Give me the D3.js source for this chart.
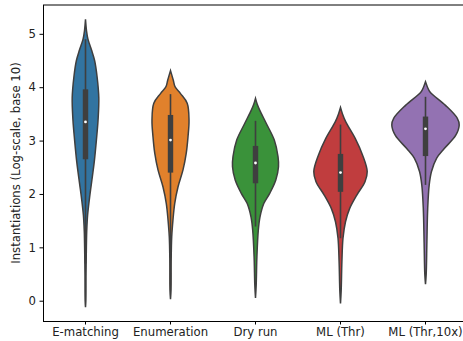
<!DOCTYPE html>
<html>
<head>
<meta charset="utf-8">
<script src="https://cdn.jsdelivr.net/npm/d3@7"></script>
<style>
  body { margin: 0; background: #fff; }
  text { font-family: "DejaVu Sans", sans-serif; fill: #222; }
</style>
</head>
<body>
<div id="chart"></div>
<script>
// DATA
var categories = ["E-matching", "Enumeration", "Dry run", "ML (Thr)", "ML (Thr,10x)"];
var colors = ["#3274a1", "#e1812c", "#3a923a", "#c03d3e", "#9372b2"];

var medians = [3.35, 3.01, 2.58, 2.40, 3.22];
var q1 = [2.65, 2.40, 2.20, 2.04, 2.71];
var q3 = [3.96, 3.48, 2.90, 2.75, 3.45];
var whiskLo = [0.70, 0.80, 1.39, 1.17, 2.17];
var whiskHi = [4.90, 3.87, 3.37, 3.30, 3.82];

// density profiles: [log value, relative density]
var densEmatching = [[-0.12, 0], [0, 0.01], [0.5, 0.015], [1.0, 0.025], [1.3, 0.035], [1.6, 0.06],
    [1.9, 0.11], [2.2, 0.17], [2.6, 0.25], [3.0, 0.31], [3.4, 0.36], [3.8, 0.38], [4.2, 0.33],
    [4.5, 0.26], [4.7, 0.17], [4.9, 0.07], [5.05, 0.03], [5.27, 0]];
var densEnumeration = [[0.03, 0], [0.2, 0.015], [0.8, 0.02], [1.2, 0.035], [1.51, 0.07],
    [1.82, 0.12], [2.13, 0.214], [2.45, 0.357], [2.76, 0.449], [3.07, 0.5], [3.38, 0.529],
    [3.70, 0.477], [3.88, 0.286], [4.01, 0.129], [4.13, 0.08], [4.31, 0]];
var densDryRun = [[0.05, 0], [0.3, 0.02], [0.82, 0.04], [1.32, 0.08], [1.57, 0.129],
    [1.82, 0.237], [2.01, 0.406], [2.26, 0.58], [2.51, 0.657], [2.70, 0.643], [3.01, 0.537],
    [3.32, 0.309], [3.57, 0.12], [3.68, 0.05], [3.79, 0]];
var densMLThr = [[-0.05, 0], [0.2, 0.02], [0.73, 0.04], [1.17, 0.071], [1.48, 0.143],
    [1.73, 0.263], [1.98, 0.466], [2.23, 0.7], [2.42, 0.763], [2.73, 0.629], [3.04, 0.42],
    [3.35, 0.151], [3.5, 0.057], [3.62, 0]];
var densMLThr10x = [[0.31, 0], [0.5, 0.02], [1.1, 0.04], [1.73, 0.063], [2.17, 0.106],
    [2.42, 0.171], [2.67, 0.32], [2.85, 0.537], [3.10, 0.866], [3.29, 0.963], [3.42, 0.906],
    [3.66, 0.571], [3.91, 0.129], [4.0, 0.057], [4.10, 0]];
var densities = [densEmatching, densEnumeration, densDryRun, densMLThr, densMLThr10x];

var yTicks = [0, 1, 2, 3, 4, 5];

// CHART
var svgWidth = 463, svgHeight = 341;
var margin = { left: 43, right: 468, top: 5, bottom: 321 };

var svg = d3.select("#chart")
    .append("svg")
    .attr("width", svgWidth)
    .attr("height", svgHeight);

var x = d3.scaleBand()
    .domain(categories)
    .range([margin.left, margin.right]);

var y = d3.scaleLinear()
    .domain([-0.38, 5.54])
    .range([margin.bottom, margin.top]);

var w = d3.scaleLinear()
    .domain([0, 1])
    .range([0, 35]);

// Violins
categories.forEach(function(c, i) {
    var cx = x(c) + x.bandwidth() / 2;
    var area = d3.area()
        .curve(d3.curveCatmullRom)
        .y(d => y(d[0]))
        .x0(d => cx - w(d[1]))
        .x1(d => cx + w(d[1]));

    svg.append("path")
        .datum(densities[i])
        .attr("d", area)
        .attr("fill", colors[i])
        .attr("stroke", "#3f3f3f")
        .attr("stroke-width", 1.5);

    // whisker
    svg.append("line")
        .attr("x1", cx).attr("x2", cx)
        .attr("y1", y(whiskLo[i])).attr("y2", y(whiskHi[i]))
        .attr("stroke", "#3f3f3f")
        .attr("stroke-width", 1.6);

    // box
    svg.append("rect")
        .attr("x", cx - 2.7)
        .attr("width", 5.4)
        .attr("y", y(q3[i]))
        .attr("height", y(q1[i]) - y(q3[i]))
        .attr("fill", "#3f3f3f");

    // median
    svg.append("circle")
        .attr("cx", cx)
        .attr("cy", y(medians[i]))
        .attr("r", 1.4)
        .attr("fill", "#fff");
});

// Axes
var yAxis = svg.append("g")
    .attr("transform", "translate(" + margin.left + ",0)")
    .call(d3.axisLeft(y).tickValues(yTicks).tickFormat(d3.format("d")).tickSize(3.5).tickPadding(3.5));
yAxis.select(".domain").remove();
yAxis.selectAll("text").style("font-size", "11.7px").attr("fill", "#222");

var xAxis = svg.append("g")
    .attr("transform", "translate(0," + margin.bottom + ")")
    .call(d3.axisBottom(x).tickSize(3.5).tickPadding(3.5));
xAxis.select(".domain").remove();
xAxis.selectAll("text").style("font-size", "11.7px").attr("fill", "#222");

// Spines
svg.append("line")
    .attr("x1", margin.left + 0.5).attr("x2", margin.left + 0.5)
    .attr("y1", margin.top).attr("y2", margin.bottom + 0.5)
    .attr("stroke", "#000").attr("stroke-width", 1);
svg.append("line")
    .attr("x1", margin.left).attr("x2", svgWidth)
    .attr("y1", margin.bottom + 0.5).attr("y2", margin.bottom + 0.5)
    .attr("stroke", "#000").attr("stroke-width", 1);
svg.append("line")
    .attr("x1", margin.left).attr("x2", svgWidth)
    .attr("y1", margin.top).attr("y2", margin.top)
    .attr("stroke", "#000").attr("stroke-width", 1);

// Y label
svg.append("text")
    .attr("transform", "translate(20," + ((margin.top + margin.bottom) / 2) + ") rotate(-90)")
    .attr("text-anchor", "middle")
    .style("font-size", "11.7px")
    .text("Instantiations (Log-scale, base 10)");
</script>
</body>
</html>
